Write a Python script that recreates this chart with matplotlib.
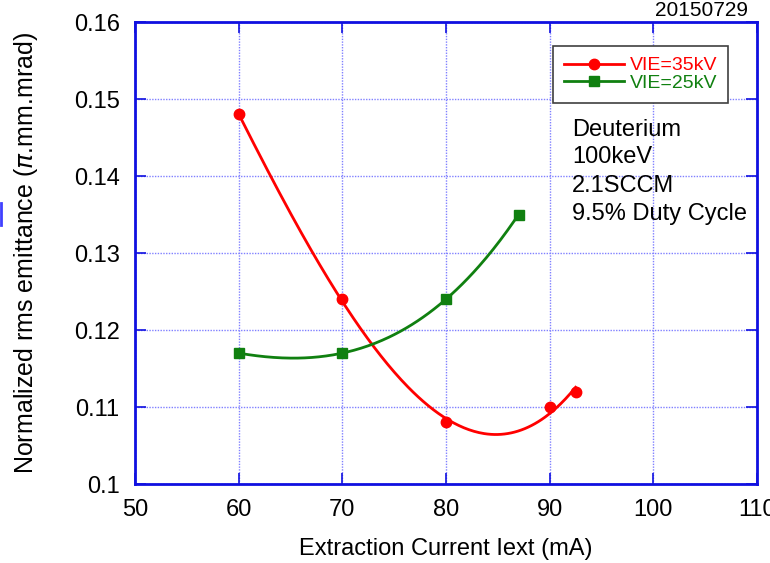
import numpy as np
import matplotlib
matplotlib.use('Agg')
import matplotlib.pyplot as plt

plt.rcParams['font.family'] = ['Liberation Sans', 'DejaVu Sans']

current_35kv = [60, 70, 80, 90, 92.5]
emit_35kv = [0.148, 0.124, 0.108, 0.110, 0.112]
current_25kv = [60, 70, 80, 87]
emit_25kv = [0.117, 0.117, 0.124, 0.135]

x_ticks = [50, 60, 70, 80, 90, 100, 110]
y_ticks = [0.1, 0.11, 0.12, 0.13, 0.14, 0.15, 0.16]
y_tick_labels = ['0.1', '0.11', '0.12', '0.13', '0.14', '0.15', '0.16']
notes = ['Deuterium', '100keV', '2.1SCCM', '9.5% Duty Cycle']

frame_blue = '#1010e0'
red = '#ff0000'
green = '#108010'


def smooth_fit(x, y, deg=3):
    """cubic fit through the points, sampled finely for drawing"""
    coef = np.polyfit(x, y, deg)
    xs = np.linspace(min(x), max(x), 200)
    return xs, np.polyval(coef, xs)


fig = plt.figure(figsize=(7.7, 5.63), dpi=100)
ax = fig.add_axes([0.1753, 0.1403, 0.8078, 0.8206])

xs, ys = smooth_fit(current_35kv, emit_35kv)
ax.plot(xs, ys, color=red, lw=2, zorder=3)
ax.plot(current_35kv, emit_35kv, 'o', color=red, ms=7.5, zorder=4)
xs, ys = smooth_fit(current_25kv, emit_25kv)
ax.plot(xs, ys, color=green, lw=2, zorder=3)
ax.plot(current_25kv, emit_25kv, 's', color=green, ms=6.5, zorder=4)

# legend handles: line with marker in the middle
h1, = ax.plot([], [], '-o', color=red, lw=2, ms=7.5, label='VIE=35kV')
h2, = ax.plot([], [], '-s', color=green, lw=2, ms=6.5, label='VIE=25kV')
leg = ax.legend(handles=[h1, h2], loc='upper left', bbox_to_anchor=(0.672, 0.948),
                fontsize=14, fancybox=False, framealpha=1, edgecolor='#404040',
                handlelength=3.1, handletextpad=0.3, borderpad=0.55, labelspacing=0.0,
                borderaxespad=0)
leg.get_frame().set_linewidth(1.2)
for txt, c in zip(leg.get_texts(), [red, green]):
    txt.set_color(c)

# run conditions, one line each
note_y = [0.766, 0.708, 0.645, 0.584]
for line, yy in zip(notes, note_y):
    ax.text(0.7026, yy, line, transform=ax.transAxes, fontsize=17,
            va='center', ha='left')

ax.set_xlim(50, 110)
ax.set_ylim(0.1, 0.16)
ax.set_xticks(x_ticks)
ax.set_yticks(y_ticks)
ax.set_yticklabels(y_tick_labels)
ax.grid(True, color='#8080ff', ls=(0, (1, 1)), lw=1)
ax.tick_params(direction='in', length=8, width=1.2, color=frame_blue, labelsize=17,
               top=True, right=True, pad=11)
for s in ax.spines.values():
    s.set_color(frame_blue)
    s.set_linewidth(2)

ax.set_xlabel('Extraction Current Iext (mA)', fontsize=17)
ax.set_ylabel(r'Normalized rms emittance ($\pi$.mm.mrad)', fontsize=18)
ax.xaxis.set_label_coords(0.5, -0.117)
ax.yaxis.set_label_coords(-0.152, 0.5)
fig.text(0.972, 0.981, '20150729', fontsize=15, ha='right', va='center')

# small blue mark at the left edge of the original image
fig.add_artist(plt.Line2D([0.001, 0.001], [0.6, 0.64], color='#4040ff', lw=2))

fig.savefig('out.png', dpi=100)
